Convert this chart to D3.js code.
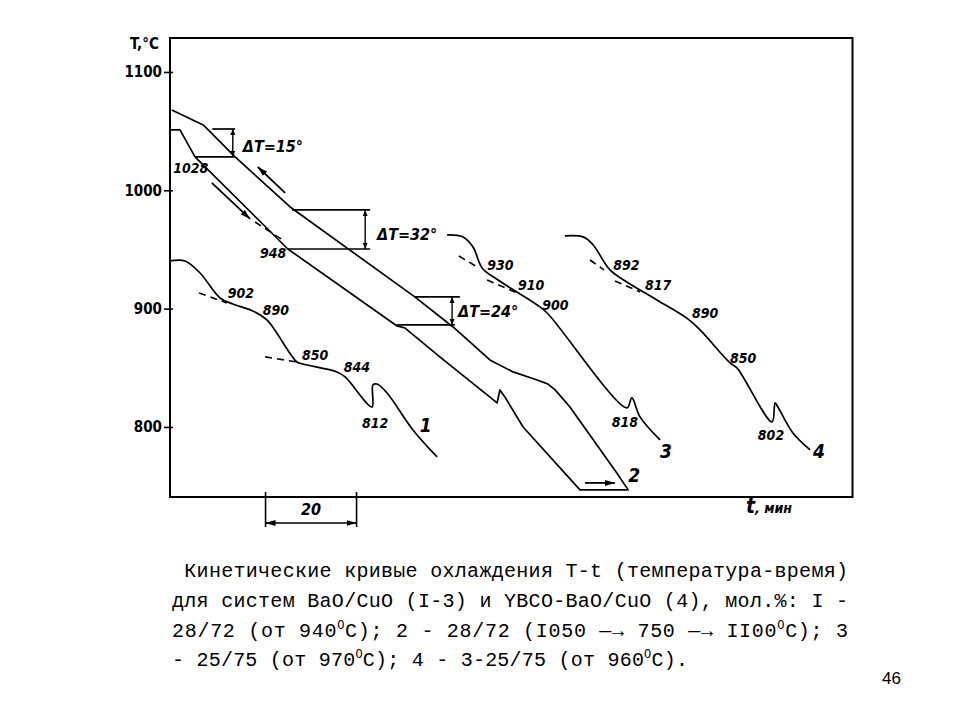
<!DOCTYPE html>
<html>
<head>
<meta charset="utf-8">
<script src="https://cdn.jsdelivr.net/npm/d3@7"></script>
<style>
  body { margin: 0; background: #fff; }
  svg { display: block; }
</style>
</head>
<body>
<div id="chart"></div>
<script>
// --- Data: [t (min), T (°C)] ---
const curve1 = [[0,940.3],[3.3,940.3],[6.6,930.1],[11.0,909.0],[13.8,903.9],[18.2,898.0],[21.3,890.4],[27.9,854.9],[29.2,853.2],[36.7,846.5],[38.5,842.3],[44.4,816.9],[44.6,835.5],[45.5,836.3],[47.7,828.7],[53.4,797.5],[58.7,774.7]];
// curve 2: cooling 1050 -> 750, then heating branch back up
const curve2 = [[0,1051.0],[2.2,1051.0],[5.5,1028.2],[25.9,950.4],[49.9,885.3],[51.6,883.7],[59.3,859.2],[71.9,820.3],[72.5,831.3],[73.6,825.4],[77.6,800.0],[90.1,746.8],[100.7,746.8],[98.2,761.1],[87.9,816.9],[84.6,831.5],[83.0,836.4],[80.7,839.7],[75.4,846.5],[70.3,856.6],[65.9,871.8],[62.2,884.5],[53.8,909.9],[26.4,985.9],[14.3,1028.2],[7.3,1055.2],[0.4,1067.9]];
const curve3 = [[60.9,962.3],[64.4,960.6],[66.6,952.1],[68.6,934.4],[72.1,924.2],[80.7,903.1],[82.9,896.3],[100.4,816.1],[101.5,824.5],[103.3,808.5],[107.7,789.0]];
const curve4 = [[86.8,961.4],[90.8,960.6],[93.0,953.8],[96.7,932.7],[100.4,922.5],[107.0,907.3],[113.8,891.3],[116.5,882.0],[123.1,854.1],[124.6,849.9],[132.3,804.2],[133.0,820.3],[133.6,816.9],[136.9,794.9],[140.7,780.6]];

// dashed tangents at the arrests
const tangents = [
  [[6.4,913.2],[12.5,904.8]],
  [[20.9,859.2],[27.9,854.9]],
  [[18.7,973.2],[24.8,958.0]],
  [[63.5,944.5],[67.5,935.2]],
  [[69.7,924.2],[76.3,913.2]],
  [[92.3,941.1],[95.4,932.7]],
  [[97.8,923.4],[103.3,914.1]]
];

// temperature marks: [text, t, T]
const pointLabels = [
  ["1028",0.7,1014.7],["948",19.8,942.8],["902",12.7,909.0],["890",20.4,894.7],
  ["850",29.0,856.6],["844",38.2,846.5],["812",42.2,799.2],
  ["930",69.7,932.7],["910",76.5,915.8],["900",81.8,898.9],["818",97.1,800.0],
  ["892",97.4,932.7],["817",104.4,915.8],["890",114.7,892.1],["850",123.1,854.1],["802",129.2,789.0]
];
const curveNames = [["1",54.9,795.8],["2",100.7,753.5],["3",107.7,773.8],["4",141.3,773.8]];

// hysteresis brackets
const brackets = [
  { label: "ΔT=15°", labelAt: [16.0,1032.4], up: 1051.8, lo: 1028.2, upFrom: 9.3, upTo: 14.3, loFrom: 5.5, loTo: 14.3, at: 13.8 },
  { label: "ΔT=32°", labelAt: [45.5,958.0], up: 983.4, lo: 950.4, upFrom: 26.8, upTo: 44.0, loFrom: 25.9, loTo: 44.0, at: 42.9 },
  { label: "ΔT=24°", labelAt: [63.3,893.0], up: 909.9, lo: 886.2, upFrom: 53.8, upTo: 63.7, loFrom: 49.9, loTo: 62.6, at: 62.0 }
];

// direction arrows
const moveArrows = [
  [[9.2,1006.2],[17.6,975.8]],
  [[25.3,997.8],[19.3,1019.7]],
  [[91.2,752.7],[97.8,752.7]]
];

const yTicks = [800, 900, 1000, 1100];
const scaleBar = [21, 41]; // 20 min

const caption = [
  " Кинетические кривые охлаждения T-t (температура-время)",
  "для систем BaO/CuO (I-3) и YBCO-BaO/CuO (4), мол.%: I -",
  "28/72 (от 940°С); 2 - 28/72 (I050 —→ 750 —→ II00°С); 3",
  "- 25/75 (от 970°С); 4 - 3-25/75 (от 960°С)."
];
const captionWidths = [676, 676, 676, 516];

// --- Drawing ---
const handFont = '"Liberation Sans Narrow", "DejaVu Sans Condensed", "Liberation Sans", sans-serif';

const svg = d3.select("#chart").append("svg")
  .attr("width", 960).attr("height", 720);

const x = d3.scaleLinear().domain([0, 150]).range([170, 852.5]);
const y = d3.scaleLinear().domain([740.8, 1128.7]).range([497, 38]);

const defs = svg.append("defs");
defs.append("marker").attr("id", "head")
  .attr("viewBox", "0 0 10 6").attr("refX", 10).attr("refY", 3)
  .attr("markerWidth", 10).attr("markerHeight", 6)
  .attr("markerUnits", "userSpaceOnUse").attr("orient", "auto-start-reverse")
  .append("path").attr("d", "M0,0 L10,3 L0,6 Z").attr("fill", "#000");
defs.append("marker").attr("id", "small")
  .attr("viewBox", "0 0 6 6").attr("refX", 6).attr("refY", 3)
  .attr("markerWidth", 6).attr("markerHeight", 6)
  .attr("markerUnits", "userSpaceOnUse").attr("orient", "auto-start-reverse")
  .append("path").attr("d", "M0,0.5 L6,3 L0,5.5 Z").attr("fill", "#000");

// frame
svg.append("rect")
  .attr("x", x(0)).attr("y", y(1128.7))
  .attr("width", x(150) - x(0)).attr("height", y(740.8) - y(1128.7))
  .attr("fill", "none").attr("stroke", "#000").attr("stroke-width", 2);

// y axis
const yAxis = d3.axisLeft(y).tickValues(yTicks).tickSize(6).tickPadding(2).tickFormat(d3.format("d"));
svg.append("g").attr("transform", `translate(${x(0)},0)`).call(yAxis)
  .call(g => g.select(".domain").remove())
  .call(g => g.selectAll(".tick line").attr("stroke-width", 1.6).attr("x1", 3))
  .call(g => g.selectAll(".tick text")
    .attr("font-family", '"DejaVu Sans Condensed", sans-serif')
    .attr("font-size", 15).attr("font-weight", "bold").attr("fill", "#000"));

svg.append("text").attr("x", 130).attr("y", 49)
  .attr("font-family", '"DejaVu Sans Condensed", sans-serif').attr("font-weight", "bold")
  .attr("font-size", 15).text("T,°C");

const xl = svg.append("text").attr("x", 746).attr("y", 513)
  .attr("font-family", handFont).attr("font-weight", "bold").attr("font-style", "italic");
xl.append("tspan").attr("font-size", 21).text("t");
xl.append("tspan").attr("font-size", 14).text(", мин");

// curves (curve 2 has sharp corners, keep it straight-segmented)
const smooth = d3.line().x(d => x(d[0])).y(d => y(d[1])).curve(d3.curveCatmullRom.alpha(0.5));
const straight = d3.line().x(d => x(d[0])).y(d => y(d[1]));
svg.append("g").selectAll("path").data([curve1, curve2, curve3, curve4]).join("path")
  .attr("d", (d, i) => i === 1 ? straight(d) : smooth(d))
  .attr("fill", "none").attr("stroke", "#000")
  .attr("stroke-width", 1.7).attr("stroke-linejoin", "round");

svg.append("g").selectAll("line").data(tangents).join("line")
  .attr("x1", d => x(d[0][0])).attr("y1", d => y(d[0][1]))
  .attr("x2", d => x(d[1][0])).attr("y2", d => y(d[1][1]))
  .attr("stroke", "#000").attr("stroke-width", 1.6).attr("stroke-dasharray", "7,5");

// brackets
const br = svg.append("g").attr("stroke", "#000").attr("stroke-width", 1.7);
brackets.forEach(b => {
  br.append("line").attr("x1", x(b.upFrom)).attr("x2", x(b.upTo)).attr("y1", y(b.up)).attr("y2", y(b.up));
  br.append("line").attr("x1", x(b.loFrom)).attr("x2", x(b.loTo)).attr("y1", y(b.lo)).attr("y2", y(b.lo));
  br.append("line").attr("x1", x(b.at)).attr("x2", x(b.at)).attr("y1", y(b.up)).attr("y2", y(b.lo))
    .attr("stroke-width", 1.4)
    .attr("marker-start", "url(#small)").attr("marker-end", "url(#small)");
});
svg.append("g").selectAll("text").data(brackets).join("text")
  .attr("x", d => x(d.labelAt[0])).attr("y", d => y(d.labelAt[1]))
  .attr("font-family", handFont).attr("font-weight", "bold").attr("font-style", "italic")
  .attr("font-size", 16).text(d => d.label);

// movement arrows
svg.append("g").selectAll("line").data(moveArrows).join("line")
  .attr("x1", d => x(d[0][0])).attr("y1", d => y(d[0][1]))
  .attr("x2", d => x(d[1][0])).attr("y2", d => y(d[1][1]))
  .attr("stroke", "#000").attr("stroke-width", 1.8).attr("marker-end", "url(#head)");

// labels
svg.append("g").selectAll("text").data(pointLabels).join("text")
  .attr("x", d => x(d[1])).attr("y", d => y(d[2]))
  .attr("font-family", handFont).attr("font-weight", "bold").attr("font-style", "italic")
  .attr("font-size", 14).text(d => d[0]);
svg.append("g").selectAll("text").data(curveNames).join("text")
  .attr("x", d => x(d[1])).attr("y", d => y(d[2]))
  .attr("font-family", handFont).attr("font-weight", "bold").attr("font-style", "italic")
  .attr("font-size", 19).text(d => d[0]);

// 20 min scale bar
const yb = y(740.8);
const sb = svg.append("g").attr("stroke", "#000").attr("stroke-width", 1.6);
scaleBar.forEach(t => sb.append("line").attr("x1", x(t)).attr("x2", x(t)).attr("y1", yb - 5).attr("y2", yb + 30));
const mid = (x(scaleBar[0]) + x(scaleBar[1])) / 2;
sb.append("line").attr("x1", mid).attr("x2", x(scaleBar[0])).attr("y1", yb + 26).attr("y2", yb + 26).attr("marker-end", "url(#head)");
sb.append("line").attr("x1", mid).attr("x2", x(scaleBar[1])).attr("y1", yb + 26).attr("y2", yb + 26).attr("marker-end", "url(#head)");
svg.append("text").attr("x", mid).attr("y", yb + 18).attr("text-anchor", "middle")
  .attr("font-family", handFont).attr("font-weight", "bold").attr("font-style", "italic")
  .attr("font-size", 16).text(scaleBar[1] - scaleBar[0]);

// caption
const capBase = [577, 607, 637, 666];
caption.forEach((s, i) => {
  const t = svg.append("text").attr("x", 172).attr("y", capBase[i])
    .attr("font-family", '"Liberation Mono", "DejaVu Sans Mono", monospace')
    .attr("font-size", 20).attr("fill", "#000")
    .attr("textLength", captionWidths[i]).attr("lengthAdjust", "spacing")
    .attr("xml:space", "preserve");
  const parts = s.split("°");
  parts.forEach((p, j) => {
    if (j > 0) {
      t.append("tspan").attr("font-size", 12).attr("dy", -8).text("O");
      t.append("tspan").attr("dy", 8).text(p);
    } else {
      t.append("tspan").text(p);
    }
  });
});

svg.append("text").attr("x", 882).attr("y", 684)
  .attr("font-family", '"Liberation Sans", Arial, sans-serif').attr("font-size", 17)
  .text("46");
</script>
</body>
</html>
